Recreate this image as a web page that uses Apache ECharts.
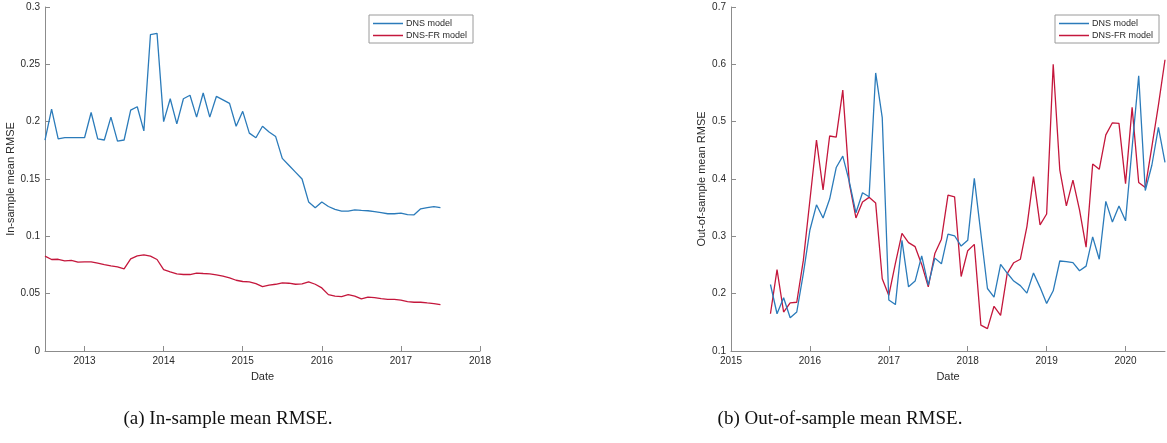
<!DOCTYPE html>
<html>
<head>
<meta charset="utf-8">
<script src="https://cdn.jsdelivr.net/npm/echarts@6/dist/echarts.min.js"></script>
<style>
  html, body { margin: 0; padding: 0; background: #ffffff; }
  #chart { width: 1167px; height: 443px; }
</style>
</head>
<body>
<div id="chart"></div>
<script>
// First month of each monthly series: [year, month]
const inSampleStart = [2012, 7];
const outSampleStart = [2015, 7];

// In-sample mean RMSE, monthly 2012-07 .. 2017-07
const inSampleDNS = [
  0.184, 0.211, 0.185, 0.186, 0.186, 0.186,
  0.186, 0.208, 0.185, 0.184, 0.204, 0.183, 0.184, 0.210, 0.213, 0.192, 0.276, 0.277,
  0.200, 0.220, 0.198, 0.220, 0.223, 0.204, 0.225, 0.204, 0.222, 0.219, 0.216, 0.196,
  0.209, 0.190, 0.186, 0.196, 0.191, 0.187, 0.168, 0.162, 0.156, 0.150, 0.130, 0.125,
  0.130, 0.126, 0.1235, 0.122, 0.122, 0.123, 0.1226, 0.1223, 0.1215, 0.1206, 0.1197, 0.1197,
  0.1203, 0.119, 0.1188, 0.124, 0.125, 0.126, 0.125
];
const inSampleDNSFR = [
  0.0827, 0.0798, 0.0800, 0.0786, 0.0790, 0.0775,
  0.0778, 0.0778, 0.0766, 0.0754, 0.0743, 0.0734, 0.0717, 0.0804, 0.0830, 0.0839, 0.0827, 0.0798,
  0.0710, 0.0690, 0.0673, 0.0667, 0.0667, 0.0680, 0.0676, 0.0673, 0.0664, 0.0652, 0.0638, 0.0617,
  0.0606, 0.0603, 0.0588, 0.0562, 0.0574, 0.0582, 0.0594, 0.0591, 0.0582, 0.0585, 0.0603, 0.0582,
  0.0550, 0.0492, 0.0478, 0.0475, 0.0492, 0.0478, 0.0454, 0.0469, 0.0466, 0.0457, 0.0451, 0.0451,
  0.0443, 0.0431, 0.0425, 0.0425, 0.0419, 0.0414, 0.0405
];

// Out-of-sample mean RMSE, monthly 2015-07 .. 2020-07
const outSampleDNS = [
  0.216, 0.165, 0.193, 0.158, 0.168, 0.235,
  0.311, 0.355, 0.332, 0.365, 0.420, 0.440, 0.395, 0.341, 0.376, 0.369, 0.585, 0.507,
  0.189, 0.181, 0.293, 0.212, 0.222, 0.266, 0.215, 0.262, 0.252, 0.304, 0.301, 0.283,
  0.293, 0.401, 0.305, 0.209, 0.194, 0.251, 0.236, 0.222, 0.214, 0.201, 0.236, 0.211,
  0.183, 0.205, 0.257, 0.256, 0.254, 0.240, 0.248, 0.299, 0.260, 0.361, 0.325, 0.353,
  0.327, 0.455, 0.580, 0.380, 0.424, 0.490, 0.429
];
const outSampleDNSFR = [
  0.165, 0.242, 0.168, 0.184, 0.185, 0.258,
  0.363, 0.468, 0.381, 0.475, 0.473, 0.555, 0.392, 0.332, 0.360, 0.368, 0.358, 0.226,
  0.197, 0.253, 0.305, 0.289, 0.282, 0.251, 0.212, 0.270, 0.295, 0.372, 0.369, 0.230,
  0.275, 0.286, 0.145, 0.139, 0.178, 0.162, 0.235, 0.254, 0.260, 0.317, 0.404, 0.320,
  0.339, 0.600, 0.416, 0.353, 0.398, 0.346, 0.281, 0.426, 0.417, 0.477, 0.498, 0.497,
  0.392, 0.525, 0.394, 0.385, 0.456, 0.529, 0.608
];

// Year ticks on the date axes
const inSampleYearTicks = [2013, 2014, 2015, 2016, 2017, 2018];
const outSampleYearTicks = [2015, 2016, 2017, 2018, 2019, 2020];

const seriesNames = ['DNS model', 'DNS-FR model'];
const captions = ['(a) In-sample mean RMSE.', '(b) Out-of-sample mean RMSE.'];
const yAxisTitles = ['In-sample mean RMSE', 'Out-of-sample mean RMSE'];

const BLUE = '#2b7bba';
const RED = '#c4173c';
const AXIS_GREY = '#8c8c8c';
const TEXT_DARK = '#2a2a2a';
const SANS = '"Liberation Sans", Arial, Helvetica, sans-serif';
const SERIF = '"Liberation Serif", "Times New Roman", serif';

// Decimal-year position of each month in a monthly series
function monthlyDates(start, count) {
  const out = [];
  for (let i = 0; i < count; i++) {
    const m = start[1] - 1 + i;
    out.push(start[0] + Math.floor(m / 12) + (m % 12) / 12);
  }
  return out;
}
function pairs(dates, values) {
  return values.map((v, i) => [dates[i], v]);
}

const inDates = monthlyDates(inSampleStart, inSampleDNS.length);
const outDates = monthlyDates(outSampleStart, outSampleDNS.length);

function dateAxis(gridIndex, min, max, ticks) {
  return {
    type: 'value', gridIndex, min, max,
    name: 'Date', nameLocation: 'middle', nameGap: 20,
    nameTextStyle: { color: TEXT_DARK, fontSize: 11, fontFamily: SANS },
    axisLine: { show: true, lineStyle: { color: AXIS_GREY, width: 1 } },
    axisTick: { show: true, inside: true, length: 5, customValues: ticks,
                lineStyle: { color: AXIS_GREY, width: 1 } },
    axisLabel: { customValues: ticks, color: TEXT_DARK, fontSize: 10, margin: 5,
                 fontFamily: SANS, formatter: v => String(Math.round(v)) },
    splitLine: { show: false }
  };
}
function rmseAxis(gridIndex, min, max, interval, title, gap) {
  return {
    type: 'value', gridIndex, min, max, interval,
    name: title, nameLocation: 'middle', nameGap: gap, nameRotate: 90,
    nameTextStyle: { color: TEXT_DARK, fontSize: 11, fontFamily: SANS },
    axisLine: { show: true, lineStyle: { color: AXIS_GREY, width: 1 } },
    axisTick: { show: true, inside: true, length: 5, lineStyle: { color: AXIS_GREY, width: 1 } },
    axisLabel: { color: TEXT_DARK, fontSize: 10, margin: 5, fontFamily: SANS },
    splitLine: { show: false }
  };
}
function lineSeries(name, color, xi, data) {
  return {
    name, type: 'line', xAxisIndex: xi, yAxisIndex: xi, data,
    showSymbol: false, symbol: 'none', color,
    lineStyle: { color, width: 1.3 }, z: name === seriesNames[0] ? 3 : 2
  };
}
function legendBox(left) {
  return {
    data: seriesNames, left, top: 15, orient: 'vertical',
    icon: 'rect', itemWidth: 30, itemHeight: 1.5, itemGap: 3,
    padding: [4, 6, 3, 4], borderColor: '#9a9a9a', borderWidth: 1,
    backgroundColor: '#ffffff', selectedMode: false,
    textStyle: { color: TEXT_DARK, fontSize: 9, fontFamily: SANS, padding: [0, 0, 0, -2] }
  };
}

const chart = echarts.init(document.getElementById('chart'), null, { renderer: 'canvas' });
chart.setOption({
  animation: false,
  backgroundColor: '#ffffff',
  grid: [
    { left: 45, top: 7, width: 435, height: 344 },
    { left: 731, top: 7, width: 434, height: 344 }
  ],
  xAxis: [
    dateAxis(0, 2012.5, 2018, inSampleYearTicks),
    dateAxis(1, 2015, 2020.5, outSampleYearTicks)
  ],
  yAxis: [
    rmseAxis(0, 0, 0.3, 0.05, yAxisTitles[0], 28),
    rmseAxis(1, 0.1, 0.7, 0.1, yAxisTitles[1], 24)
  ],
  legend: [legendBox(369), legendBox(1055)],
  series: [
    lineSeries(seriesNames[0], BLUE, 0, pairs(inDates, inSampleDNS)),
    lineSeries(seriesNames[1], RED, 0, pairs(inDates, inSampleDNSFR)),
    lineSeries(seriesNames[0], BLUE, 1, pairs(outDates, outSampleDNS)),
    lineSeries(seriesNames[1], RED, 1, pairs(outDates, outSampleDNSFR))
  ],
  graphic: [
    { type: 'text', style: { text: captions[0], x: 228, y: 419, textAlign: 'center',
      textVerticalAlign: 'middle', fill: '#111111', font: '19px ' + SERIF } },
    { type: 'text', style: { text: captions[1], x: 840, y: 419, textAlign: 'center',
      textVerticalAlign: 'middle', fill: '#111111', font: '19px ' + SERIF } }
  ]
});
</script>
</body>
</html>
